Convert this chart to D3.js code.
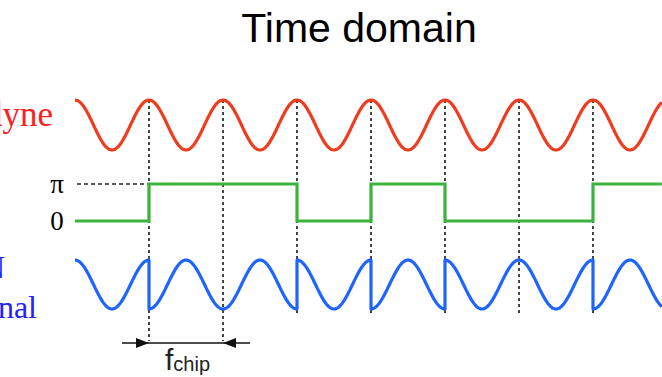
<!DOCTYPE html>
<html>
<head>
<meta charset="utf-8">
<script src="https://cdn.jsdelivr.net/npm/d3@7"></script>
<style>
  html, body { margin: 0; padding: 0; background: #fff; }
  svg { display: block; }
</style>
</head>
<body>
<div id="chart"></div>
<script>
// chip phase sequence (0 -> phase 0, 1 -> phase pi), one carrier cycle per chip
let chips = [0, 1, 1, 0, 1, 0, 0, 1];
let chipLevels = ["0", "\u03c0"];
let tEnd = 7.93;            // visible span, in chip periods
let markers = [1, 2, 3, 4, 5, 6, 7];
let spanMarkers = [1, 2];   // f_chip brace

let width = 662;
let height = 377;

let svg = d3.select("#chart")
    .append("svg")
    .attr("width", width)
    .attr("height", height);

let x = d3.scaleLinear().domain([0, 1]).range([75, 149]);
let yRed = d3.scaleLinear().domain([-1, 1]).range([150, 100]);
let yGreen = d3.scaleLinear().domain([0, 1]).range([221, 184]);
let yBlue = d3.scaleLinear().domain([-1, 1]).range([309, 260]);

// sample the waveforms
function carrier(t) { return Math.cos(2 * Math.PI * t); }

let redPts = d3.range(0, tEnd, 0.01).concat([tEnd]).map(t => [t, carrier(t)]);

let bluePts = [];
chips.forEach(function(c, i) {
    let t0 = i, t1 = Math.min(i + 1, tEnd);
    if (t0 >= tEnd) return;
    d3.range(t0, t1, 0.01).concat([t1]).forEach(function(t) {
        bluePts.push([t, Math.cos(2 * Math.PI * t + Math.PI * c)]);
    });
});

let greenPts = chips.map((c, i) => [i, c]);
greenPts.push([tEnd, chips[chips.length - 1]]);

// dashed chip markers
svg.append("g")
    .selectAll("line")
    .data(markers)
    .enter()
    .append("line")
    .attr("x1", d => x(d))
    .attr("x2", d => x(d))
    .attr("y1", yRed(1))
    .attr("y2", d => spanMarkers.indexOf(d) >= 0 ? 341 : 313)
    .attr("stroke", "#444")
    .attr("stroke-width", 2)
    .attr("stroke-dasharray", "3,3");

// pi reference dashes
svg.append("line")
    .attr("x1", 77).attr("x2", x(1))
    .attr("y1", yGreen(1)).attr("y2", yGreen(1))
    .attr("stroke", "#222")
    .attr("stroke-width", 1.3)
    .attr("stroke-dasharray", "4,3");

let lineRed = d3.line().x(d => x(d[0])).y(d => yRed(d[1]));
let lineBlue = d3.line().x(d => x(d[0])).y(d => yBlue(d[1]));
let lineGreen = d3.line().x(d => x(d[0])).y(d => yGreen(d[1])).curve(d3.curveStepAfter);

svg.append("path").attr("d", lineRed(redPts))
    .attr("fill", "none").attr("stroke", "#f03c1e").attr("stroke-width", 3.2);
svg.append("path").attr("d", lineGreen(greenPts))
    .attr("fill", "none").attr("stroke", "#3cb43c").attr("stroke-width", 3.2);
svg.append("path").attr("d", lineBlue(bluePts))
    .attr("fill", "none").attr("stroke", "#1e64ff").attr("stroke-width", 3.2)
    .attr("stroke-linejoin", "round");

// level labels
svg.selectAll(".lvl")
    .data(chipLevels)
    .enter()
    .append("text")
    .attr("class", "lvl")
    .attr("x", 57)
    .attr("y", (d, i) => yGreen(i) + 9)
    .attr("text-anchor", "middle")
    .attr("font-family", "Liberation Serif, serif")
    .attr("font-size", 27)
    .text(d => d);

// row labels (cut at the left edge, as in the original figure)
svg.append("text")
    .attr("x", 53).attr("y", 126)
    .attr("text-anchor", "end")
    .attr("font-family", "Liberation Serif, serif")
    .attr("font-size", 35)
    .attr("fill", "#ff2020")
    .text("Homodyne");
svg.append("text")
    .attr("x", 5).attr("y", 278)
    .attr("text-anchor", "end")
    .attr("font-family", "Liberation Serif, serif")
    .attr("font-size", 32)
    .attr("fill", "#2222ff")
    .text("PN");
svg.append("text")
    .attr("x", 37).attr("y", 318)
    .attr("text-anchor", "end")
    .attr("font-family", "Liberation Serif, serif")
    .attr("font-size", 32)
    .attr("fill", "#2222ff")
    .text("signal");

// title
svg.append("text")
    .attr("x", 359).attr("y", 42)
    .attr("text-anchor", "middle")
    .attr("font-family", "Liberation Sans, Arial, sans-serif")
    .attr("font-size", 41)
    .text("Time domain");

// f_chip arrows
let ay = 343;
svg.append("line")
    .attr("x1", 122).attr("x2", 250)
    .attr("y1", ay).attr("y2", ay)
    .attr("stroke", "#111").attr("stroke-width", 1.5);
svg.append("path")
    .attr("d", `M${x(1)},${ay} l-13,-5 l0,10 z`)
    .attr("fill", "#111");
svg.append("path")
    .attr("d", `M${x(2)},${ay} l13,-5 l0,10 z`)
    .attr("fill", "#111");

let lab = svg.append("text")
    .attr("x", 165).attr("y", 370)
    .attr("font-family", "Liberation Sans, Arial, sans-serif")
    .attr("fill", "#222");
lab.append("tspan").attr("font-size", 30).text("f");
lab.append("tspan").attr("font-size", 20).attr("dy", 1).text("chip");
</script>
</body>
</html>
